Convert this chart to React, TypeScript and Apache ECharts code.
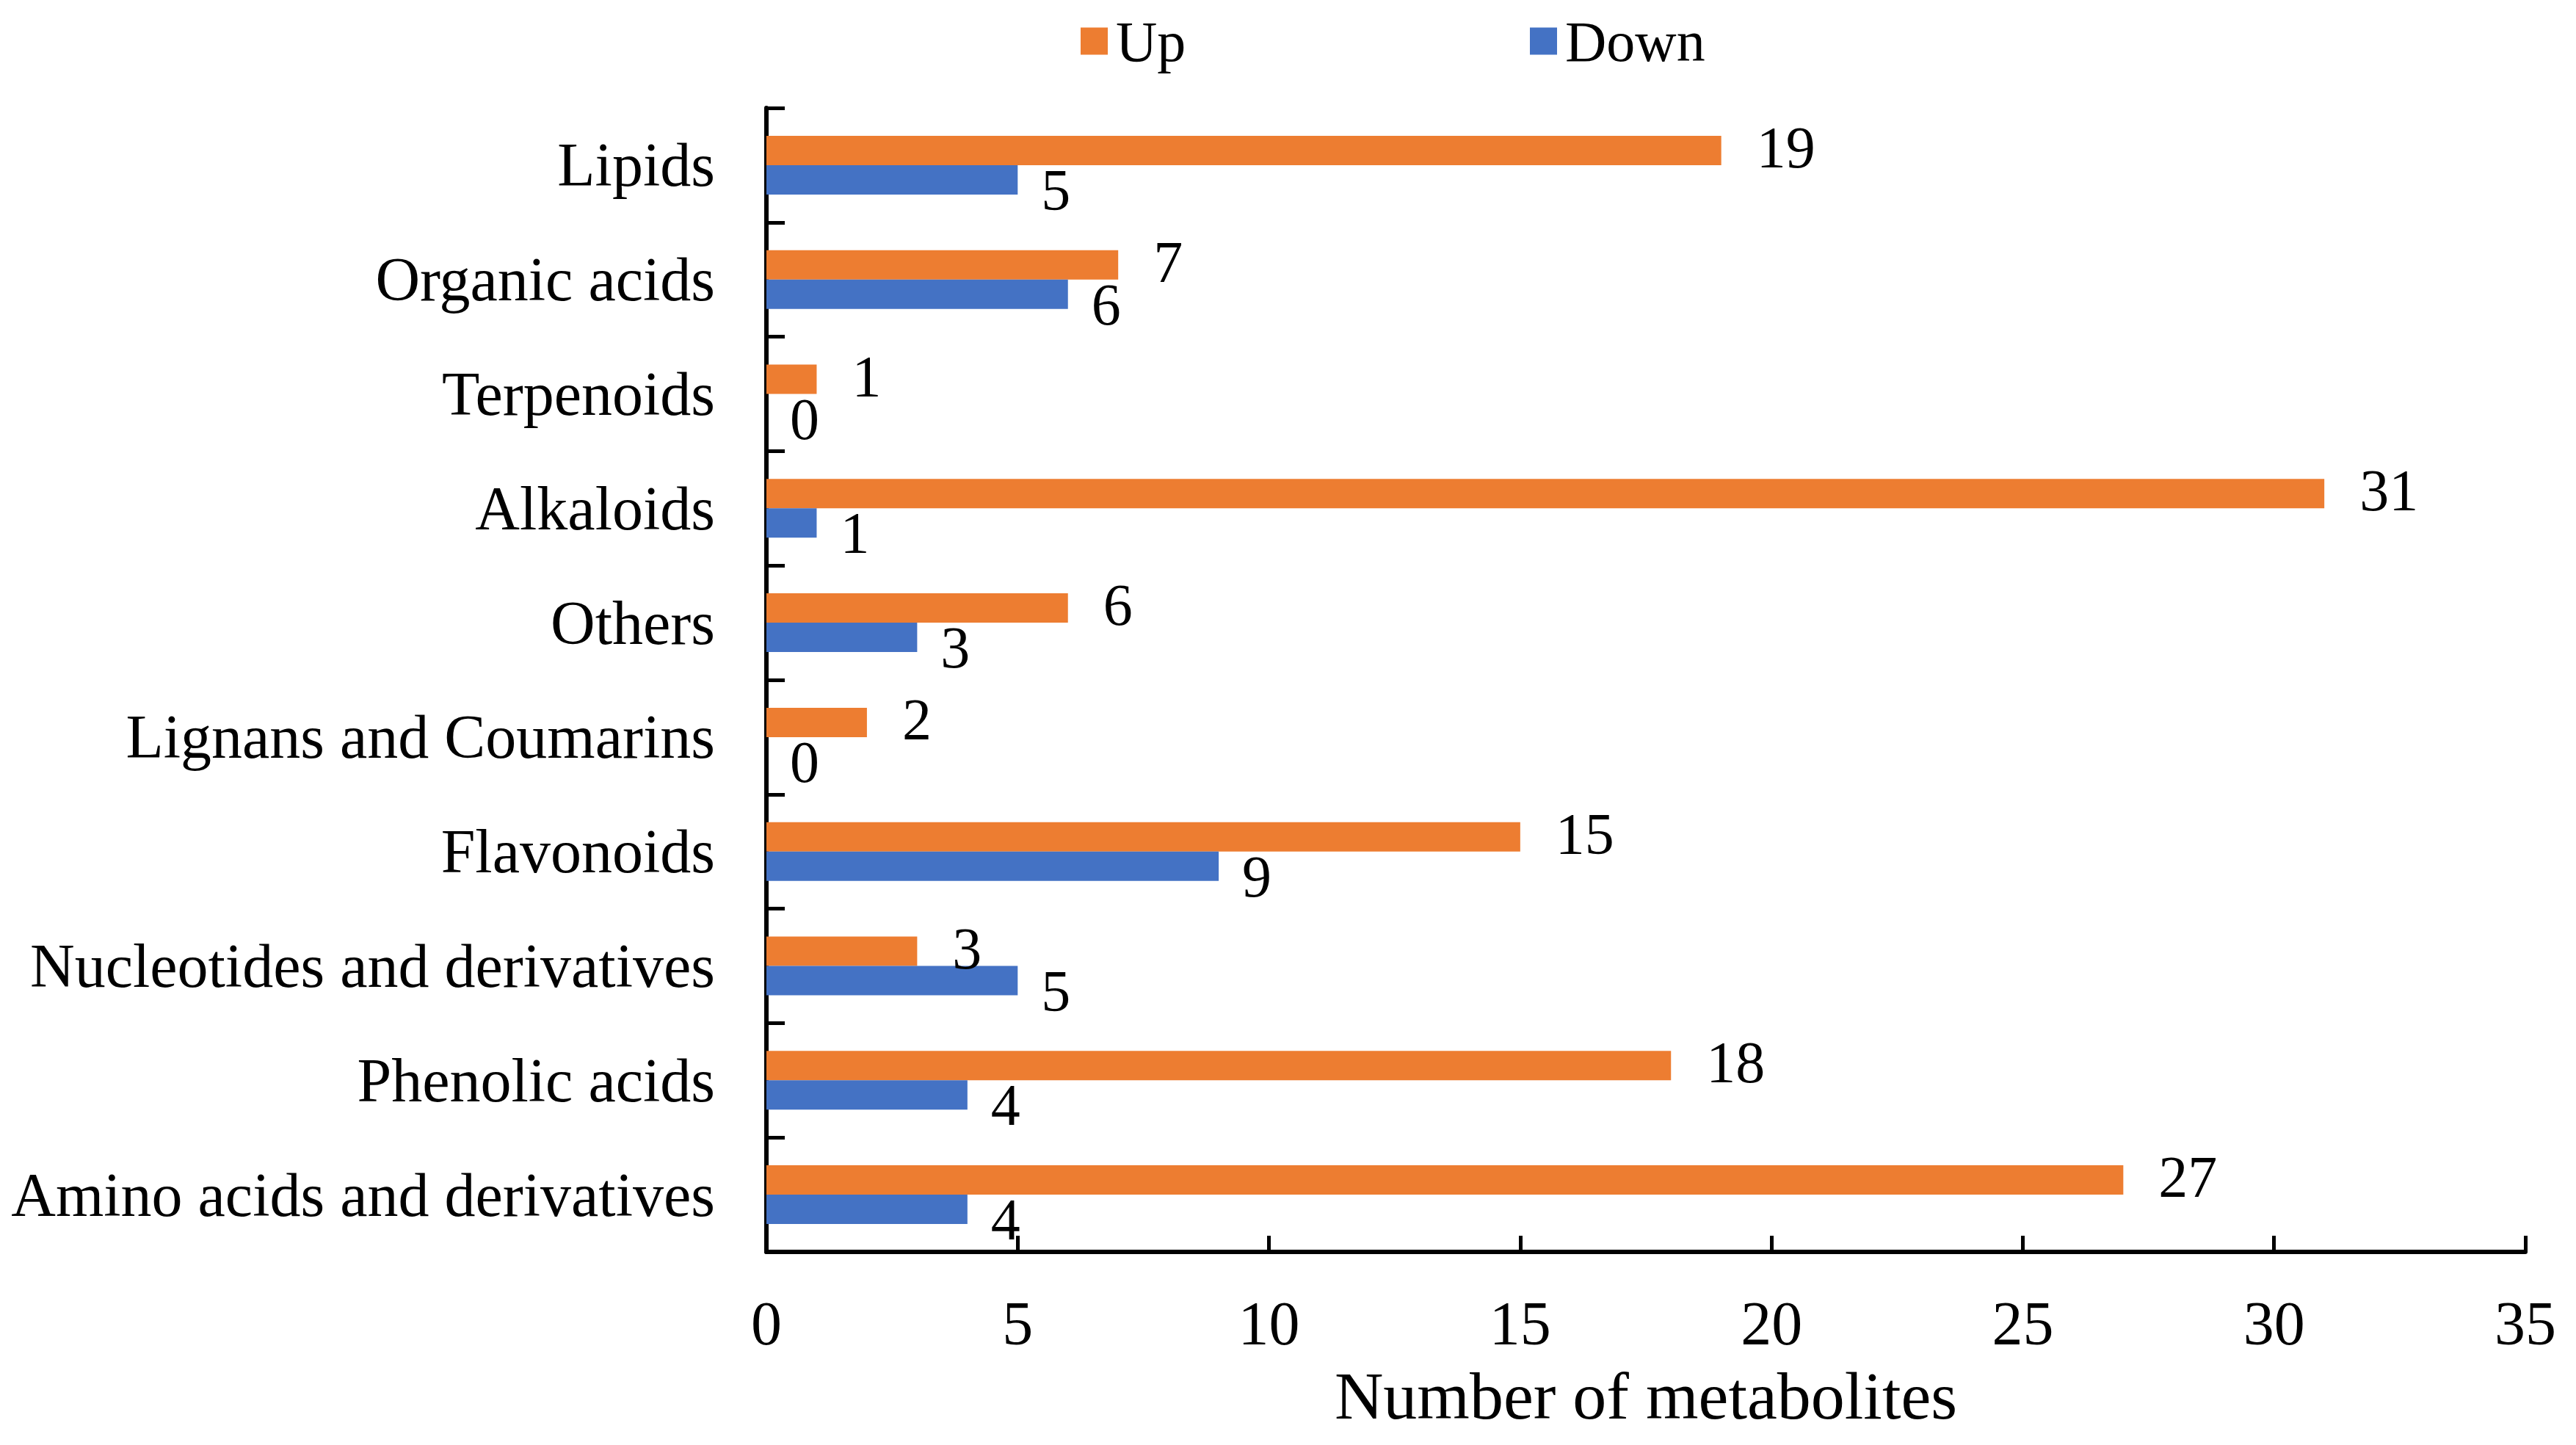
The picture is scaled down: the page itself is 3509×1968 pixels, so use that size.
import React, { useEffect, useRef } from "react";
import * as echarts from "echarts";

const categories = [
  "Lipids",
  "Organic acids",
  "Terpenoids",
  "Alkaloids",
  "Others",
  "Lignans and Coumarins",
  "Flavonoids",
  "Nucleotides and derivatives",
  "Phenolic acids",
  "Amino acids and derivatives",
];
const upValues = [19, 7, 1, 31, 6, 2, 15, 3, 18, 27];
const downValues = [5, 6, 0, 1, 3, 0, 9, 5, 4, 4];
const xTicks = { min: 0, max: 35, interval: 5 };
const xTitle = "Number of metabolites";

const FONT = "'Liberation Serif', 'Times New Roman', serif";
const ORANGE = "#ED7D31";
const BLUE = "#4472C4";

export default function App() {
  const ref = useRef<HTMLDivElement>(null);
  useEffect(() => {
    document.body.style.margin = "0";
    if (!ref.current) return;
    const chart = echarts.init(ref.current, null, { renderer: "svg" });
    const legendCommon = {
      top: 12,
      itemWidth: 37,
      itemHeight: 37,
      icon: "rect",
      textStyle: { fontFamily: FONT, fontSize: 78, color: "#000", padding: [0, 0, 0, 6] },
    };
    chart.setOption({
      animation: false,
      backgroundColor: "#fff",
      legend: [
        { ...legendCommon, left: 1467, data: ["Up"] },
        { ...legendCommon, left: 2079, data: ["Down"] },
      ],
      grid: { left: 1044, right: 69, top: 147, bottom: 263, containLabel: false },
      xAxis: {
        type: "value",
        min: xTicks.min,
        max: xTicks.max,
        interval: xTicks.interval,
        name: xTitle,
        nameLocation: "middle",
        nameGap: 150,
        nameTextStyle: { fontFamily: FONT, fontSize: 92, color: "#000" },
        axisLine: { show: true, lineStyle: { color: "#000", width: 6 } },
        axisTick: { show: true, inside: true, length: 22, lineStyle: { color: "#000", width: 5 } },
        axisLabel: { fontFamily: FONT, fontSize: 84, color: "#000", margin: 55 },
        splitLine: { show: false },
      },
      yAxis: {
        type: "category",
        data: categories,
        inverse: true,
        axisLine: { show: true, lineStyle: { color: "#000", width: 6 } },
        axisTick: { show: true, inside: true, length: 25, lineStyle: { color: "#000", width: 5 } },
        axisLabel: { fontFamily: FONT, fontSize: 84, color: "#000", margin: 70 },
        splitLine: { show: false },
      },
      series: [
        {
          name: "Up",
          type: "bar",
          data: upValues,
          barWidth: 40,
          barGap: "0%",
          itemStyle: { color: ORANGE },
          label: {
            show: true,
            position: "right",
            distance: 48,
            offset: [0, -4],
            fontFamily: FONT,
            fontSize: 80,
            color: "#000",
          },
        },
        {
          name: "Down",
          type: "bar",
          data: downValues,
          barWidth: 40,
          barGap: "0%",
          itemStyle: { color: BLUE },
          label: {
            show: true,
            position: "right",
            distance: 32,
            offset: [0, 14],
            fontFamily: FONT,
            fontSize: 80,
            color: "#000",
          },
        },
      ],
    });
    return () => chart.dispose();
  }, []);
  return <div ref={ref} style={{ width: 3509, height: 1968 }} />;
}
